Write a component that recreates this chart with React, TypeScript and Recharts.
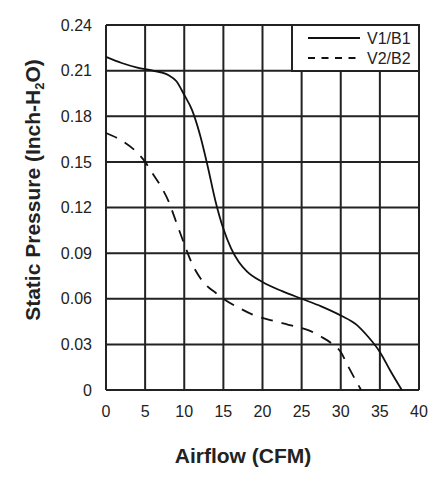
import { LineChart, Line, XAxis, YAxis, CartesianGrid, Legend, Label } from 'recharts'

// V1/B1 curve (solid)
const airflowV1 = [0, 2, 4, 6, 8, 9, 10, 11, 12, 13, 14, 15, 16, 17, 18, 20, 22.5, 25, 27.5, 30, 32, 33.5, 35, 36.3, 37.8]
const pressureV1 = [0.219, 0.215, 0.212, 0.21, 0.207, 0.203, 0.194, 0.184, 0.168, 0.147, 0.124, 0.106, 0.093, 0.084, 0.078, 0.071, 0.065, 0.06, 0.055, 0.049, 0.043, 0.035, 0.025, 0.013, 0]

// V2/B2 curve (dashed)
const airflowV2 = [0, 2, 4, 5, 6, 7, 8, 9, 10, 11, 12, 13, 14, 15, 17, 19, 21, 24, 26, 27.5, 29, 30, 31, 32.6]
const pressureV2 = [0.169, 0.164, 0.156, 0.15, 0.142, 0.134, 0.124, 0.11, 0.096, 0.083, 0.074, 0.068, 0.064, 0.06, 0.054, 0.049, 0.046, 0.042, 0.039, 0.035, 0.03, 0.025, 0.015, 0]

const xTicks = [0, 5, 10, 15, 20, 25, 30, 35, 40]
const yTicks = [0, 0.03, 0.06, 0.09, 0.12, 0.15, 0.18, 0.21, 0.24]

const seriesNames = ['V1/B1', 'V2/B2']

const toPoints = (xs: number[], ys: number[]) => xs.map((x, i) => ({ x, y: ys[i] }))

const FONT = '"Liberation Sans", Arial, sans-serif'
const INK = '#222'

const yTickFormat = (v: number) => (v === 0 ? '0' : v.toFixed(2))

// boxed legend in the top-right corner of the plot
const LegendBox = () => (
	<svg width={129} height={48} style={{ display: 'block' }}>
		<rect x={1} y={1} width={127} height={46} fill="#fff" stroke={INK} strokeWidth={2} />
		<line x1={17} x2={69} y1={14} y2={14} stroke="#111" strokeWidth={1.8} />
		<line x1={17} x2={70} y1={34} y2={34} stroke="#111" strokeWidth={1.8} strokeDasharray="7 6.5" />
		<text x={76} y={19.5} fontSize={16} fontFamily={FONT} fill={INK}>
			{seriesNames[0]}
		</text>
		<text x={76} y={39.5} fontSize={16} fontFamily={FONT} fill={INK}>
			{seriesNames[1]}
		</text>
	</svg>
)

const App = () => {
	const dataV1 = toPoints(airflowV1, pressureV1)
	const dataV2 = toPoints(airflowV2, pressureV2)

	return (
		<div style={{ position: 'absolute', left: 0, top: 0, background: '#fff' }}>
			<LineChart width={436} height={479} margin={{ top: 25, right: 17, bottom: 0, left: 0 }}>
				<CartesianGrid stroke={INK} strokeWidth={2} />
				<XAxis
					dataKey="x"
					type="number"
					domain={[0, 40]}
					ticks={xTicks}
					height={89}
					axisLine={false}
					tickLine={false}
					tickSize={0}
					tickMargin={16}
					tick={{ fontSize: 16, fontFamily: FONT, fill: INK }}
				>
					<Label
						content={() => (
							<text x={243} y={463} textAnchor="middle" fontSize={21} fontWeight="bold" fontFamily={FONT} fill={INK}>
								Airflow (CFM)
							</text>
						)}
					/>
				</XAxis>
				<YAxis
					type="number"
					domain={[0, 0.24]}
					ticks={yTicks}
					width={106}
					axisLine={false}
					tickLine={false}
					tickSize={0}
					tickMargin={14}
					tickFormatter={yTickFormat}
					tick={{ fontSize: 16, fontFamily: FONT, fill: INK }}
				>
					<Label
						content={() => (
							<text
								transform="translate(40,190) rotate(-90)"
								textAnchor="middle"
								fontSize={21}
								fontWeight="bold"
								fontFamily={FONT}
								fill={INK}
							>
								Static Pressure (Inch-H
								<tspan fontSize={13} dy={4}>
									2
								</tspan>
								<tspan dy={-4}>O)</tspan>
							</text>
						)}
					/>
				</YAxis>
				<Legend
					layout="horizontal"
					align="center"
					verticalAlign="middle"
					wrapperStyle={{ left: 291, top: 24, width: 129, height: 48 }}
					content={() => <LegendBox />}
				/>
				<Line
					data={dataV1}
					dataKey="y"
					name={seriesNames[0]}
					type="monotone"
					stroke="#111"
					strokeWidth={1.8}
					dot={false}
					activeDot={false}
					isAnimationActive={false}
				/>
				<Line
					data={dataV2}
					dataKey="y"
					name={seriesNames[1]}
					type="monotone"
					stroke="#111"
					strokeWidth={1.8}
					strokeDasharray="12 9"
					dot={false}
					activeDot={false}
					isAnimationActive={false}
				/>
			</LineChart>
		</div>
	)
}

export default App
